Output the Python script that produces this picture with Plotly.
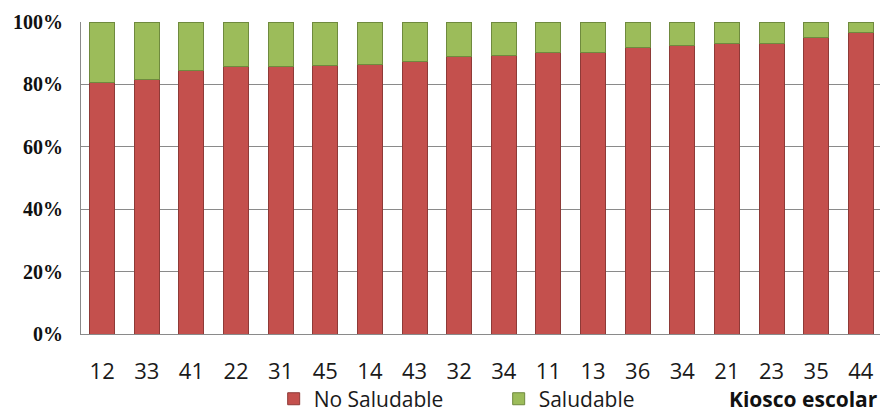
import plotly.graph_objects as go

# School kiosk identifiers (one is repeated, so positions are used on the axis)
schools = ["12", "33", "41", "22", "31", "45", "14", "43", "32", "34",
           "11", "13", "36", "34", "21", "23", "35", "44"]

# Share of products offered at each kiosk (%)
no_saludable = [80.5, 81.7, 84.6, 85.7, 85.7, 86.2, 86.5, 87.4, 89.1, 89.4,
                90.3, 90.3, 91.9, 92.4, 93.2, 93.2, 94.9, 96.6]
saludable = [19.5, 18.3, 15.4, 14.3, 14.3, 13.8, 13.5, 12.6, 10.9, 10.6,
             9.7, 9.7, 8.1, 7.6, 6.8, 6.8, 5.1, 3.4]

positions = list(range(len(schools)))

fig = go.Figure()
fig.add_trace(go.Bar(
    x=positions, y=no_saludable, name="No Saludable",
    marker=dict(color="#C4504D", line=dict(color="#8E3A37", width=1)),
    width=0.56,
))
fig.add_trace(go.Bar(
    x=positions, y=saludable, name="Saludable",
    marker=dict(color="#9CBC5A", line=dict(color="#6F8A3E", width=1)),
    width=0.56,
))

fig.update_layout(
    barmode="stack",
    width=880, height=414,
    margin=dict(l=81, r=0, t=22, b=80, autoexpand=False),
    paper_bgcolor="white",
    plot_bgcolor="white",
    showlegend=True,
    legend=dict(
        orientation="h",
        xref="container", yref="container",
        x=0.311, xanchor="left",
        y=0.036, yanchor="middle",
        font=dict(family="Open Sans", size=21, color="#1a1a1a"),
        itemwidth=30,
        entrywidth=180,
        traceorder="normal",
    ),
    xaxis=dict(
        range=[-0.475, 17.43],
        tickmode="array", tickvals=positions, ticktext=schools,
        tickfont=dict(family="Open Sans", size=22, color="#1a1a1a"),
        showgrid=False, zeroline=False,
        showline=True, linecolor="#8a8a8a", linewidth=1,
        ticks="", ticklabelstandoff=18, automargin=False,
    ),
    yaxis=dict(
        range=[0, 100], dtick=20, ticksuffix="%",
        tickfont=dict(family="Liberation Serif", size=20, color="#111111", weight=700),
        showgrid=True, gridcolor="#8a8a8a", gridwidth=1,
        zeroline=False,
        showline=True, linecolor="#8a8a8a", linewidth=1,
        ticks="", ticklabelstandoff=13, automargin=False,
    ),
    annotations=[dict(
        text="<b>Kiosco escolar</b>",
        xref="paper", yref="paper",
        x=1.0, y=-0.209, xanchor="right", yanchor="middle",
        showarrow=False,
        font=dict(family="Open Sans", size=21, color="#111111"),
    )],
)

fig.write_html("out.html")
